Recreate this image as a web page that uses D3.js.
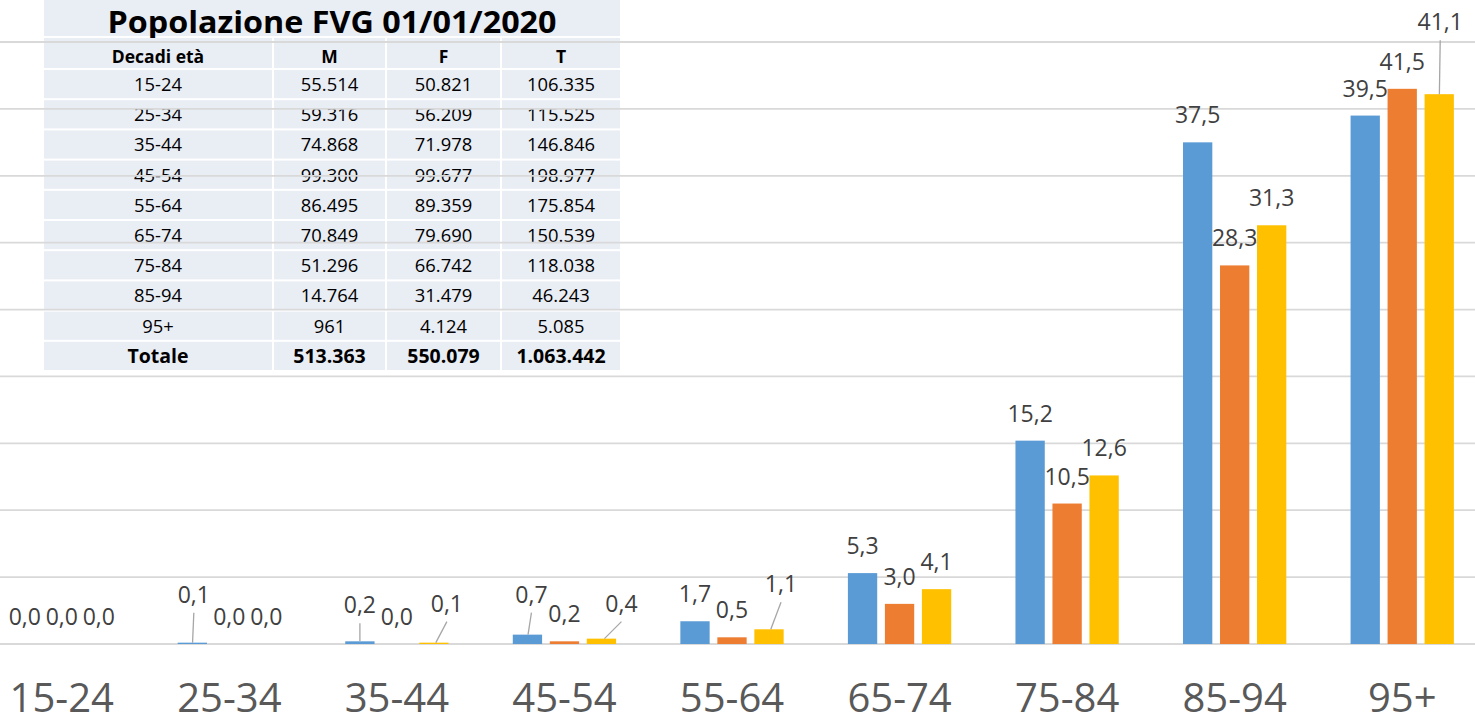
<!DOCTYPE html>
<html lang="it">
<head>
<meta charset="utf-8">
<title>Popolazione FVG 01/01/2020</title>
<script src="https://cdn.jsdelivr.net/npm/d3@7"></script>
<style>
  html, body { margin: 0; padding: 0; background: #ffffff; }
  svg { display: block; font-family: "Open Sans", "DejaVu Sans", sans-serif; }
</style>
</head>
<body>
<svg id="chart" width="1475" height="724"></svg>
<script>
// Age bands (decades) on the x axis
const categories = ["15-24", "25-34", "35-44", "45-54", "55-64", "65-74", "75-84", "85-94", "95+"];
const seriesKeys = ["M", "F", "T"];

// Bar values per series
const valuesM = [0.0, 0.1, 0.2, 0.7, 1.7, 5.3, 15.2, 37.5, 39.5];
const valuesF = [0.0, 0.0, 0.0, 0.2, 0.5, 3.0, 10.5, 28.3, 41.5];
const valuesT = [0.0, 0.0, 0.1, 0.4, 1.1, 4.1, 12.6, 31.3, 41.1];

// Horizontal gridline values
const yTicks = [0, 5, 10, 15, 20, 25, 30, 35, 40, 45];

// Population table
const tableTitle = "Popolazione FVG 01/01/2020";
const tableHeader = ["Decadi età", "M", "F", "T"];
const popM = [55514, 59316, 74868, 99300, 86495, 70849, 51296, 14764, 961];
const popF = [50821, 56209, 71978, 99677, 89359, 79690, 66742, 31479, 4124];
const popT = [106335, 115525, 146846, 198977, 175854, 150539, 118038, 46243, 5085];
const totalLabel = "Totale";

// Data labels moved off their bars (with a leader line back to the bar)
const labelNudges = [
  { key: "M", cat: "25-34", dx: 1.5, dy: -21 },
  { key: "M", cat: "35-44", dx: 0, dy: -9 },
  { key: "T", cat: "35-44", dx: 13, dy: -12 },
  { key: "M", cat: "45-54", dx: 4, dy: -13 },
  { key: "T", cat: "45-54", dx: 20, dy: -8 },
  { key: "T", cat: "55-64", dx: 12, dy: -18 },
  { key: "T", cat: "95+", dx: 1, dy: -45 }
];

const colors = { M: "#5B9BD5", F: "#ED7D31", T: "#FFC000" };
const valuesByKey = { M: valuesM, F: valuesF, T: valuesT };

const it = d3.formatLocale({ decimal: ",", thousands: ".", grouping: [3], currency: ["€", ""] });
const fmtLabel = it.format(".1f");
const fmtPop = it.format(",d");

const svg = d3.select("#chart");
const W = 1475;

// Scales
const x0 = d3.scaleBand().domain(categories).range([-22, 1486]).paddingInner(0.3375).paddingOuter(0.16875);
const x1 = d3.scaleBand().domain(seriesKeys).range([0, x0.bandwidth()]).paddingInner(0.208).paddingOuter(0.104);
const y = d3.scaleLinear().domain([0, 45]).range([644, 42]);

// ---- Table ----
const tbl = svg.append("g").attr("class", "table");
const tableBg = "#E9EDF4";
const cols = [[44, 272], [274, 385], [387, 500], [502, 620]];

tbl.append("rect").attr("x", 44).attr("y", 0).attr("width", 576).attr("height", 36).attr("fill", tableBg);
tbl.append("text")
  .attr("x", 332).attr("y", 32.5)
  .attr("text-anchor", "middle")
  .attr("font-weight", 700).attr("font-size", 30).attr("fill", "#000")
  .attr("textLength", 449).attr("lengthAdjust", "spacingAndGlyphs")
  .text(tableTitle);

const bodyRows = categories.map((c, i) => [c, fmtPop(popM[i]), fmtPop(popF[i]), fmtPop(popT[i])]);
bodyRows.push([totalLabel, fmtPop(d3.sum(popM)), fmtPop(d3.sum(popF)), fmtPop(d3.sum(popT))]);

const rows = [{ cells: tableHeader, top: 38, h: 30, bold: true, size: 17.5, base: 25 }]
  .concat(bodyRows.map((r, i) => ({
    cells: r,
    top: 70 + i * 30.2,
    h: 28.2,
    bold: i === bodyRows.length - 1,
    size: i === bodyRows.length - 1 ? 19.5 : 18.4,
    base: 21
  })));

rows.forEach(r => {
  cols.forEach((c, j) => {
    tbl.append("rect").attr("x", c[0]).attr("y", r.top).attr("width", c[1] - c[0]).attr("height", r.h).attr("fill", tableBg);
    tbl.append("text")
      .attr("x", (c[0] + c[1]) / 2).attr("y", r.top + r.base)
      .attr("text-anchor", "middle")
      .attr("font-size", r.size)
      .attr("font-weight", r.bold ? 700 : 400)
      .attr("fill", "#000")
      .text(r.cells[j]);
  });
});

// ---- Gridlines (drawn over the table) ----
svg.append("g").selectAll("line").data(yTicks).join("line")
  .attr("x1", 0).attr("x2", W)
  .attr("y1", d => y(d)).attr("y2", d => y(d))
  .attr("stroke", "#d9d9d9").attr("stroke-width", 1.8);

// ---- Bars ----
const flat = [];
categories.forEach((c, i) => seriesKeys.forEach(k => flat.push({ cat: c, key: k, value: valuesByKey[k][i] })));

svg.append("g").selectAll("rect").data(flat).join("rect")
  .attr("x", d => x0(d.cat) + x1(d.key))
  .attr("width", x1.bandwidth())
  .attr("y", d => y(d.value))
  .attr("height", d => y(0) - y(d.value))
  .attr("fill", d => colors[d.key]);

// ---- Data labels and leader lines ----
const labels = flat.map(d => {
  const n = labelNudges.find(o => o.key === d.key && o.cat === d.cat);
  const cx = x0(d.cat) + x1(d.key) + x1.bandwidth() / 2;
  const top = y(d.value);
  return Object.assign({}, d, {
    cx, top,
    lx: cx + (n ? n.dx : 0),
    ly: top - 19 + (n ? n.dy : 0),
    nudged: !!n
  });
});

svg.append("g").selectAll("line").data(labels.filter(d => d.nudged)).join("line")
  .attr("x1", d => d.lx).attr("y1", d => d.ly + 10)
  .attr("x2", d => d.cx + (d.lx - d.cx) * 0.15).attr("y2", d => d.top)
  .attr("stroke", "#a6a6a6").attr("stroke-width", 1.3);

svg.append("g").selectAll("text").data(labels).join("text")
  .attr("x", d => d.lx).attr("y", d => d.ly)
  .attr("text-anchor", "middle")
  .attr("font-size", 23).attr("fill", "#404040")
  .text(d => fmtLabel(d.value));

// ---- Category axis ----
const xAxis = svg.append("g").attr("transform", `translate(0,${y(0)})`)
  .call(d3.axisBottom(x0).tickSize(0).tickPadding(40));
xAxis.select(".domain").remove();
xAxis.selectAll("text")
  .attr("font-family", "Open Sans, sans-serif")
  .attr("font-size", 40).attr("fill", "#595959");
</script>
</body>
</html>
